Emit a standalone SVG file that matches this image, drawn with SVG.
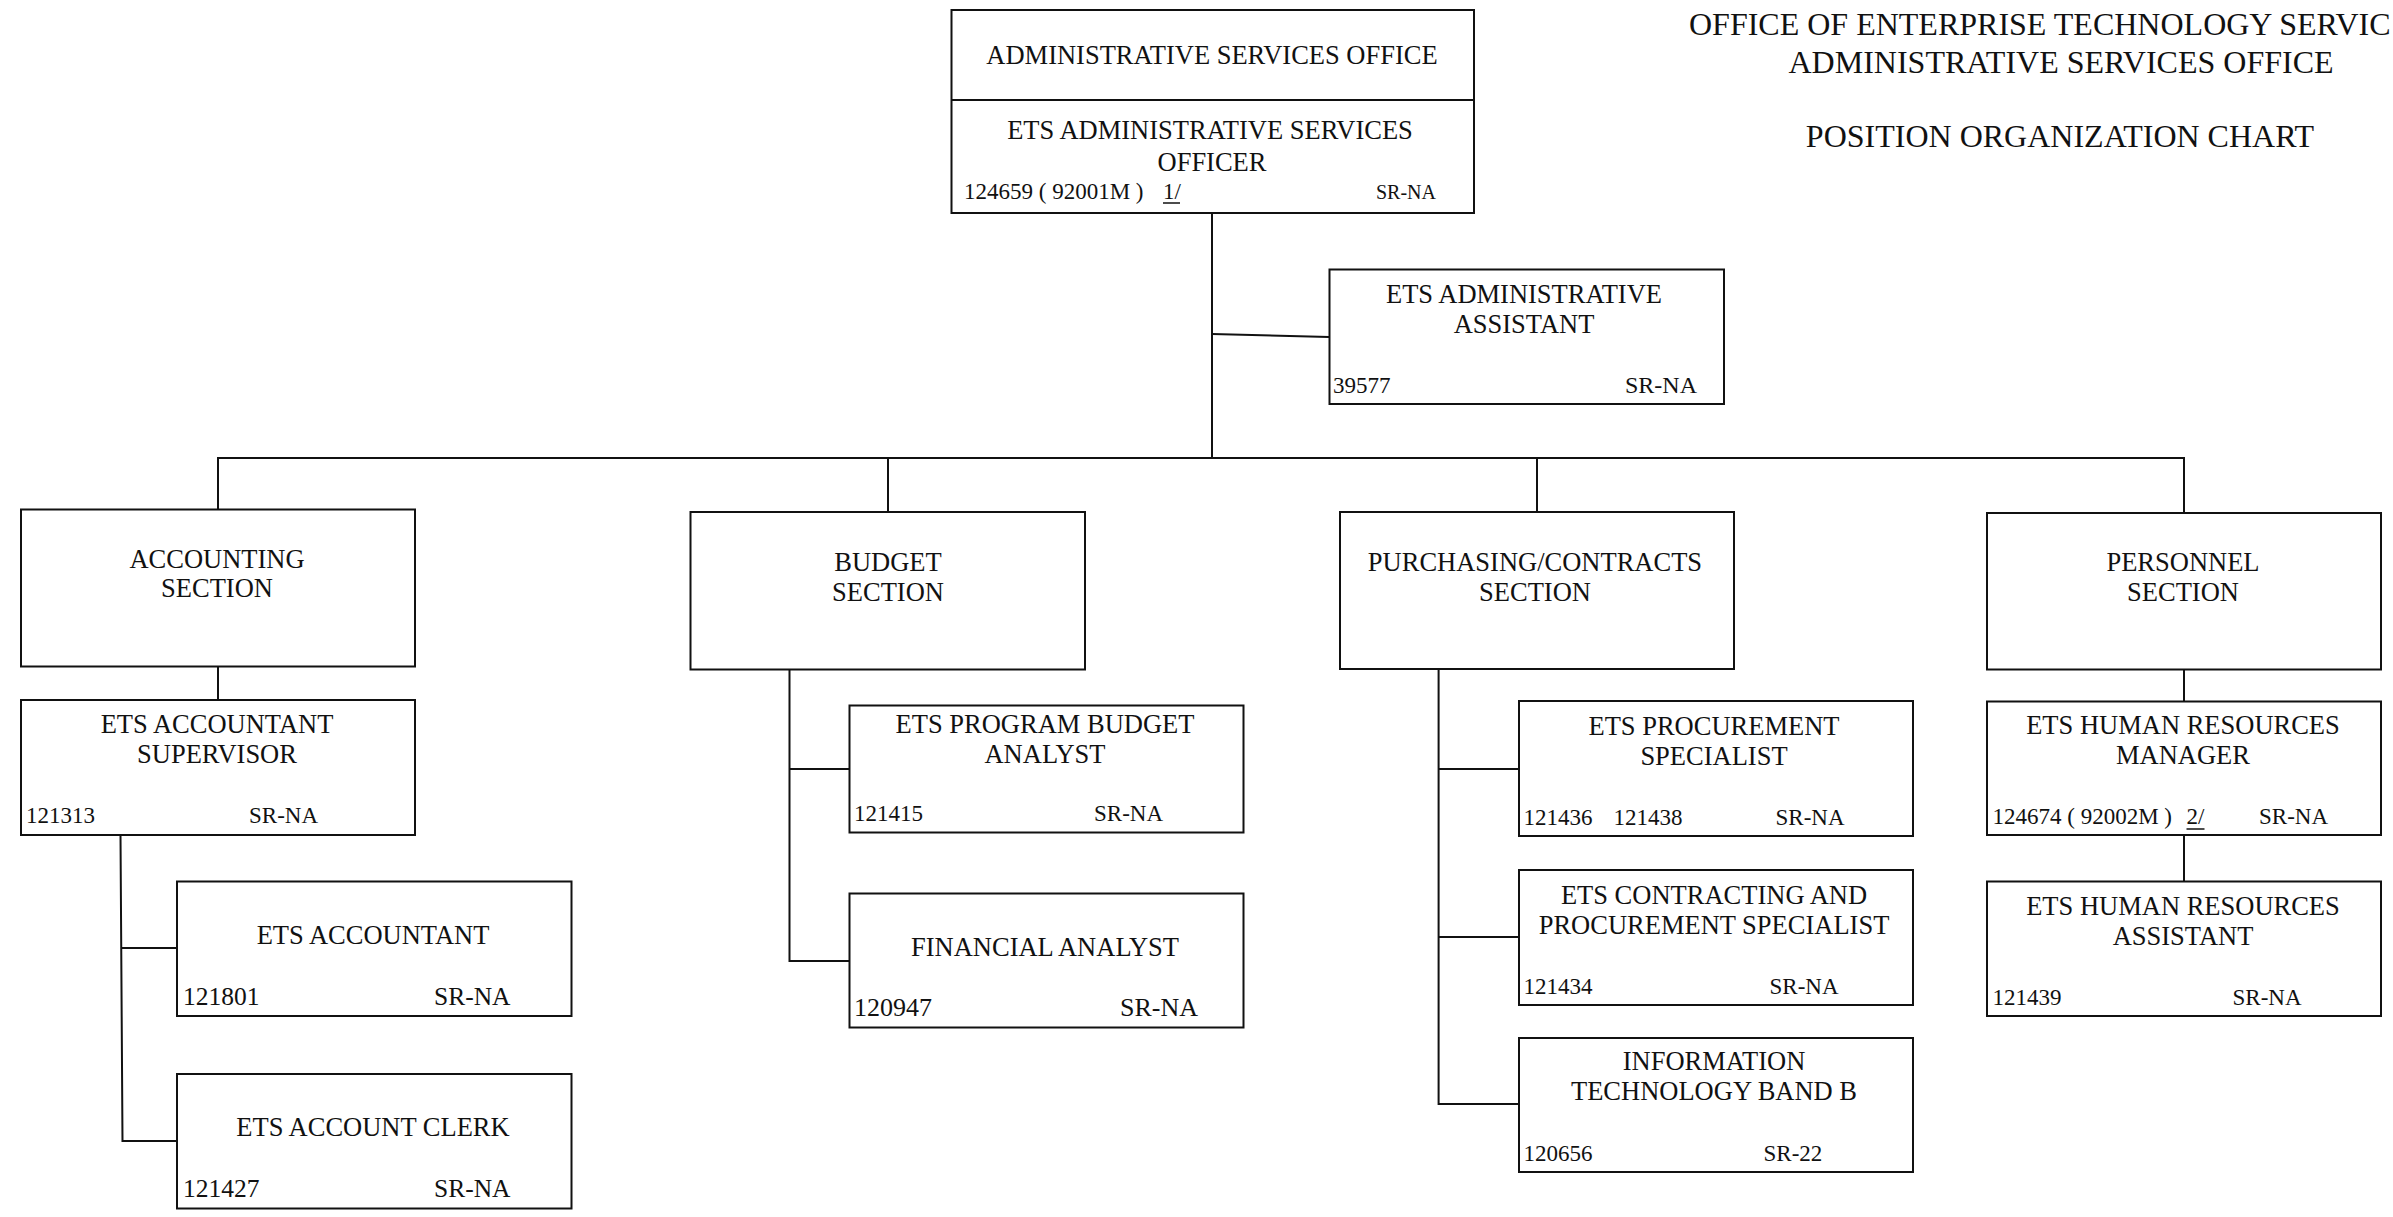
<svg xmlns="http://www.w3.org/2000/svg" width="2393" height="1217" viewBox="0 0 2393 1217">
<style>
rect.b{fill:#fff;stroke:#111;stroke-width:2}
.c line,.c polyline{stroke:#111;stroke-width:2;fill:none}
text{font-family:"Liberation Serif","Times New Roman",serif;fill:#111}
.t{font-size:26.5px;text-anchor:middle}
.i{font-size:23px}
.h{font-size:32px}
</style>
<rect width="2393" height="1217" fill="#fff"/>
<g id="heading">
<text class="h" x="1689" y="35">OFFICE OF ENTERPRISE TECHNOLOGY SERVIC</text>
<text class="h" x="2061" y="73" text-anchor="middle">ADMINISTRATIVE SERVICES OFFICE</text>
<text class="h" x="2060" y="147" text-anchor="middle">POSITION ORGANIZATION CHART</text>
</g>
<g class="c" id="connectors">
<line x1="1212" y1="213" x2="1212" y2="458"/>
<line x1="1212" y1="334" x2="1329" y2="337"/>
<line x1="217" y1="458" x2="2185" y2="458"/>
<line x1="218" y1="458" x2="218" y2="509"/>
<line x1="888" y1="458" x2="888" y2="512"/>
<line x1="1537" y1="458" x2="1537" y2="512"/>
<line x1="2184" y1="458" x2="2184" y2="513"/>
<line x1="218" y1="667" x2="218" y2="700"/>
<polyline points="120.5,835 122.5,1141 177,1141"/>
<line x1="121" y1="948" x2="177" y2="948"/>
<polyline points="789.5,670 789.5,961 849.5,961"/>
<line x1="789.5" y1="769" x2="849.5" y2="769"/>
<polyline points="1438.6,669 1438.6,1104 1519,1104"/>
<line x1="1438.6" y1="769" x2="1519" y2="769"/>
<line x1="1438.6" y1="937" x2="1519" y2="937"/>
<line x1="2184" y1="669" x2="2184" y2="701"/>
<line x1="2184" y1="835" x2="2184" y2="881"/>
</g>
<g id="admin-office">
<rect class="b" x="951.5" y="10" width="522.5" height="203"/>
<line x1="951.5" y1="100" x2="1474" y2="100" stroke="#111" stroke-width="2"/>
<text class="t" x="1212" y="64">ADMINISTRATIVE SERVICES OFFICE</text>
<text class="t" x="1210" y="139">ETS ADMINISTRATIVE SERVICES</text>
<text class="t" x="1212" y="171">OFFICER</text>
<text class="i" x="964" y="199">124659 ( 92001M )</text>
<text class="i" x="1163" y="199">1/</text>
<line x1="1163" y1="203" x2="1180" y2="203" stroke="#111" stroke-width="1.5"/>
<text x="1376" y="199" font-size="20">SR-NA</text>
</g>
<g id="admin-assistant">
<rect class="b" x="1329.5" y="269.5" width="394.5" height="134.5"/>
<text class="t" x="1524" y="303">ETS ADMINISTRATIVE</text>
<text class="t" x="1524" y="333">ASSISTANT</text>
<text class="i" x="1333" y="393">39577</text>
<text x="1625" y="393" font-size="24">SR-NA</text>
</g>
<g id="accounting-section">
<rect class="b" x="21" y="509.5" width="394" height="157"/>
<text class="t" x="217" y="568">ACCOUNTING</text>
<text class="t" x="217" y="597">SECTION</text>
</g>
<g id="accountant-supervisor">
<rect class="b" x="21" y="700" width="394" height="135"/>
<text class="t" x="217" y="733">ETS ACCOUNTANT</text>
<text class="t" x="217" y="763">SUPERVISOR</text>
<text class="i" x="26" y="823">121313</text>
<text class="i" x="249" y="823">SR-NA</text>
</g>
<g id="accountant">
<rect class="b" x="177" y="881.5" width="394.5" height="134.5"/>
<text class="t" x="373" y="944">ETS ACCOUNTANT</text>
<text x="183" y="1005" font-size="25.5">121801</text>
<text x="434" y="1005" font-size="25.5">SR-NA</text>
</g>
<g id="account-clerk">
<rect class="b" x="177" y="1074" width="394.5" height="134.5"/>
<text class="t" x="373" y="1136">ETS ACCOUNT CLERK</text>
<text x="183" y="1197" font-size="25.5">121427</text>
<text x="434" y="1197" font-size="25.5">SR-NA</text>
</g>
<g id="budget-section">
<rect class="b" x="690.5" y="512" width="394.5" height="157.5"/>
<text class="t" x="888" y="571">BUDGET</text>
<text class="t" x="888" y="601">SECTION</text>
</g>
<g id="program-budget-analyst">
<rect class="b" x="849.5" y="705.5" width="394" height="127"/>
<text class="t" x="1045" y="733">ETS PROGRAM BUDGET</text>
<text class="t" x="1045" y="763">ANALYST</text>
<text class="i" x="854" y="821">121415</text>
<text class="i" x="1094" y="821">SR-NA</text>
</g>
<g id="financial-analyst">
<rect class="b" x="849.5" y="893.5" width="394" height="134"/>
<text class="t" x="1045" y="956">FINANCIAL ANALYST</text>
<text x="854" y="1016" font-size="26">120947</text>
<text x="1120" y="1016" font-size="26">SR-NA</text>
</g>
<g id="purchasing-section">
<rect class="b" x="1340" y="512" width="394" height="157"/>
<text class="t" x="1535" y="571">PURCHASING/CONTRACTS</text>
<text class="t" x="1535" y="601">SECTION</text>
</g>
<g id="procurement-specialist">
<rect class="b" x="1519" y="701" width="394" height="135"/>
<text class="t" x="1714" y="735">ETS PROCUREMENT</text>
<text class="t" x="1714" y="765">SPECIALIST</text>
<text class="i" x="1523.5" y="825">121436</text>
<text class="i" x="1613.5" y="825">121438</text>
<text class="i" x="1775.5" y="825">SR-NA</text>
</g>
<g id="contracting-specialist">
<rect class="b" x="1519" y="870" width="394" height="135"/>
<text class="t" x="1714" y="904">ETS CONTRACTING AND</text>
<text class="t" x="1714" y="934">PROCUREMENT SPECIALIST</text>
<text class="i" x="1523.5" y="994">121434</text>
<text class="i" x="1769.5" y="994">SR-NA</text>
</g>
<g id="it-band-b">
<rect class="b" x="1519" y="1038" width="394" height="134"/>
<text class="t" x="1714" y="1070">INFORMATION</text>
<text class="t" x="1714" y="1100">TECHNOLOGY BAND B</text>
<text class="i" x="1523.5" y="1161">120656</text>
<text class="i" x="1763.5" y="1161">SR-22</text>
</g>
<g id="personnel-section">
<rect class="b" x="1987" y="513" width="394" height="156.5"/>
<text class="t" x="2183" y="571">PERSONNEL</text>
<text class="t" x="2183" y="601">SECTION</text>
</g>
<g id="hr-manager">
<rect class="b" x="1987" y="701.5" width="394" height="133.5"/>
<text class="t" x="2183" y="734">ETS HUMAN RESOURCES</text>
<text class="t" x="2183" y="764">MANAGER</text>
<text class="i" x="1992.5" y="823.5">124674 ( 92002M )</text>
<text class="i" x="2186.5" y="823.5">2/</text>
<line x1="2186.5" y1="829" x2="2204.5" y2="829" stroke="#111" stroke-width="1.5"/>
<text class="i" x="2259" y="823.5">SR-NA</text>
</g>
<g id="hr-assistant">
<rect class="b" x="1987" y="881.5" width="394" height="134.5"/>
<text class="t" x="2183" y="915">ETS HUMAN RESOURCES</text>
<text class="t" x="2183" y="945">ASSISTANT</text>
<text class="i" x="1992.5" y="1004.5">121439</text>
<text class="i" x="2232.5" y="1004.5">SR-NA</text>
</g>
</svg>
